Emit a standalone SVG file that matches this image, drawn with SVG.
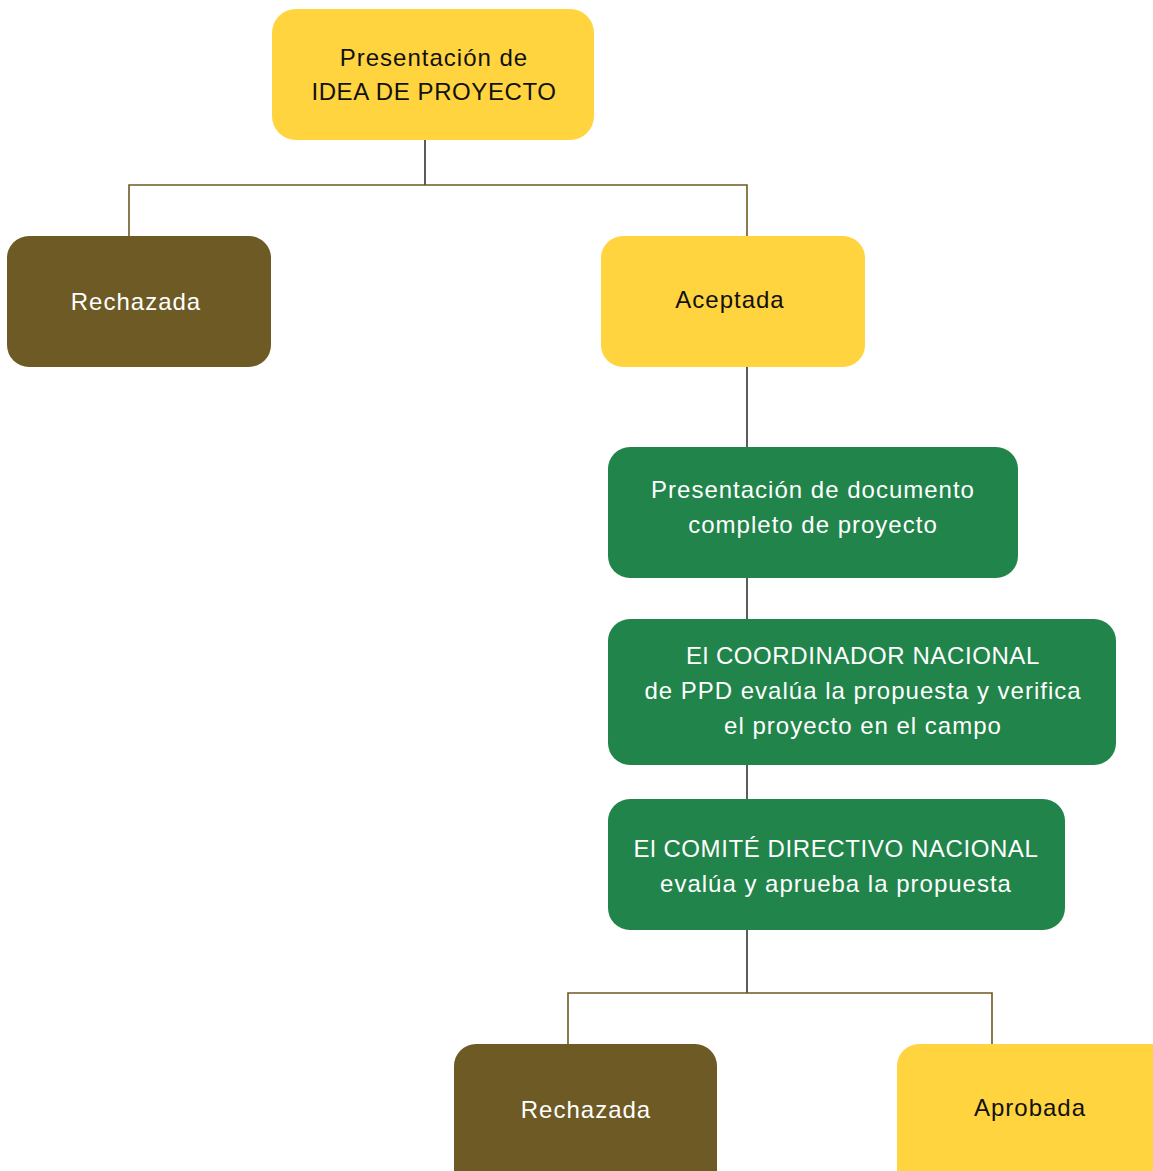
<svg xmlns="http://www.w3.org/2000/svg" width="1153" height="1171" viewBox="0 0 1153 1171">
<style>
.y{fill:#FFD43F}
.b{fill:#6D5A24}
.g{fill:#21844A}
text{font-family:"Liberation Sans","Noto Sans",sans-serif;font-size:24px;text-anchor:middle;letter-spacing:1px}
.cap{letter-spacing:0.6px}
.dk{fill:#111}
.wt{fill:#fff}
.ol{stroke:#6D5A24;stroke-width:1.6;fill:none}
.st{stroke:#333;stroke-width:1.6;fill:none}
</style>
<rect width="1153" height="1171" fill="#fff"/>
<g id="connectors">
<path class="st" d="M425 140V185"/>
<path class="ol" d="M129 236V185H747V236"/>
<path class="st" d="M747 367V447"/>
<path class="st" d="M747 578V619"/>
<path class="st" d="M747 765V799"/>
<path class="st" d="M747 930V993"/>
<path class="ol" d="M568 1044V993H992V1044"/>
</g>
<g id="n-idea">
<rect class="y" x="272" y="9" width="322" height="131" rx="24"/>
<text class="dk" x="434" y="66">Presentación de</text>
<text class="dk cap" x="434" y="100">IDEA DE PROYECTO</text>
</g>
<g id="n-rechazada1">
<rect class="b" x="7" y="236" width="264" height="131" rx="22"/>
<text class="wt" x="136" y="310">Rechazada</text>
</g>
<g id="n-aceptada">
<rect class="y" x="601" y="236" width="264" height="131" rx="22"/>
<text class="dk" x="730" y="308">Aceptada</text>
</g>
<g id="n-documento">
<rect class="g" x="608" y="447" width="410" height="131" rx="22"/>
<text class="wt" x="813" y="498">Presentación de documento</text>
<text class="wt" x="813" y="533">completo de proyecto</text>
</g>
<g id="n-coordinador">
<rect class="g" x="608" y="619" width="508" height="146" rx="22"/>
<text class="wt cap" x="863" y="664">El COORDINADOR NACIONAL</text>
<text class="wt" x="863" y="699">de PPD evalúa la propuesta y verifica</text>
<text class="wt" x="863" y="734">el proyecto en el campo</text>
</g>
<g id="n-comite">
<rect class="g" x="608" y="799" width="457" height="131" rx="22"/>
<text class="wt cap" x="836" y="857">El COMITÉ DIRECTIVO NACIONAL</text>
<text class="wt" x="836" y="892">evalúa y aprueba la propuesta</text>
</g>
<g id="n-rechazada2">
<rect class="b" x="454" y="1044" width="263" height="150" rx="22"/>
<text class="wt" x="586" y="1118">Rechazada</text>
</g>
<g id="n-aprobada">
<rect class="y" x="897" y="1044" width="280" height="150" rx="22"/>
<text class="dk" x="1030" y="1116">Aprobada</text>
</g>
</svg>
